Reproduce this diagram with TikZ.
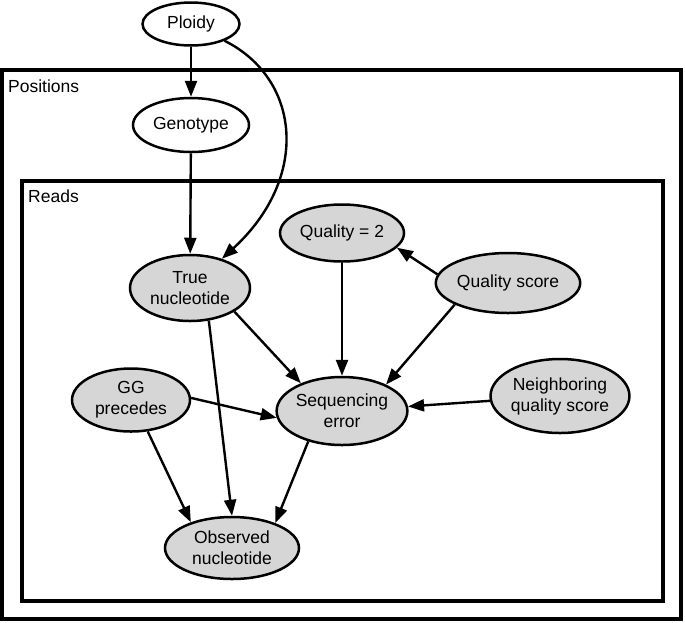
\documentclass[tikz,border=0pt]{standalone}
\usepackage{fontspec}
\setmainfont{Liberation Sans}
\usepackage{tikz}
\usetikzlibrary{arrows.meta,shapes.geometric}
\definecolor{nodeGray}{HTML}{D6D6D6}
\tikzset{
    >=Latex,
    var/.style={ellipse, draw=black, line width=2.5pt, inner sep=0pt, align=center, fill=white},
    obsvar/.style={var, fill=nodeGray},
    plate/.style={draw=black, line width=4pt},
    platelabel/.style={anchor=west, inner sep=0pt},
    causal/.style={-{Triangle[length=16pt,width=12pt]}, line width=2.4pt}
}
\begin{document}
\begin{tikzpicture}[x=1pt, y=-1pt, font=\fontsize{17.5}{21}\selectfont]
    \useasboundingbox (0,0) rectangle (685,622);
    % plates
    \draw[plate] (2,70) rectangle (681,619);
    \node[platelabel] (poslabel) at (8,86) {Positions};
    \draw[plate] (22,181) rectangle (663,601);
    \node[platelabel] (readlabel) at (28,196) {Reads};
    % variables
    \node[var, minimum width=97pt, minimum height=43pt] (ploidy) at (191,24) {Ploidy};
    \node[var, minimum width=116pt, minimum height=54pt] (geno) at (191,125) {Genotype};
    \node[obsvar, minimum width=120pt, minimum height=66pt] (truenuc) at (190,288) {True\\nucleotide};
    \node[obsvar, minimum width=124pt, minimum height=57pt] (qualtwo) at (342,233) {Quality = 2};
    \node[obsvar, minimum width=134pt, minimum height=60pt] (qualscore) at (508,283) {Quality score};
    \node[obsvar, minimum width=134pt, minimum height=74pt] (neighbor) at (560,396) {Neighboring\\quality score};
    \node[obsvar, minimum width=130pt, minimum height=68pt] (seqerr) at (342,411) {Sequencing\\error};
    \node[obsvar, minimum width=118pt, minimum height=63pt] (ggprec) at (131,400) {GG\\precedes};
    \node[obsvar, minimum width=134pt, minimum height=62pt] (obsnuc) at (232,548) {Observed\\nucleotide};
    % dependencies
    \draw[causal] (ploidy) -- (geno);
    \draw[causal] (ploidy) .. controls +(110,55) and +(120,-110) .. (truenuc);
    \draw[causal] (geno) -- (truenuc);
    \draw[causal] (truenuc.-28) -- (seqerr.146);
    \draw[causal] (truenuc.-60) -- (obsnuc.north);
    \draw[causal] (qualscore.173) -- (qualtwo.-15);
    \draw[causal] (qualtwo) -- (seqerr);
    \draw[causal] (qualscore.-158) -- (seqerr.31);
    \draw[causal] (neighbor) -- (seqerr);
    \draw[causal] (ggprec.2) -- (seqerr.186);
    \draw[causal] (ggprec.-62) -- (obsnuc.148);
    \draw[causal] (seqerr.222) -- (obsnuc.30);
\end{tikzpicture}
\end{document}
